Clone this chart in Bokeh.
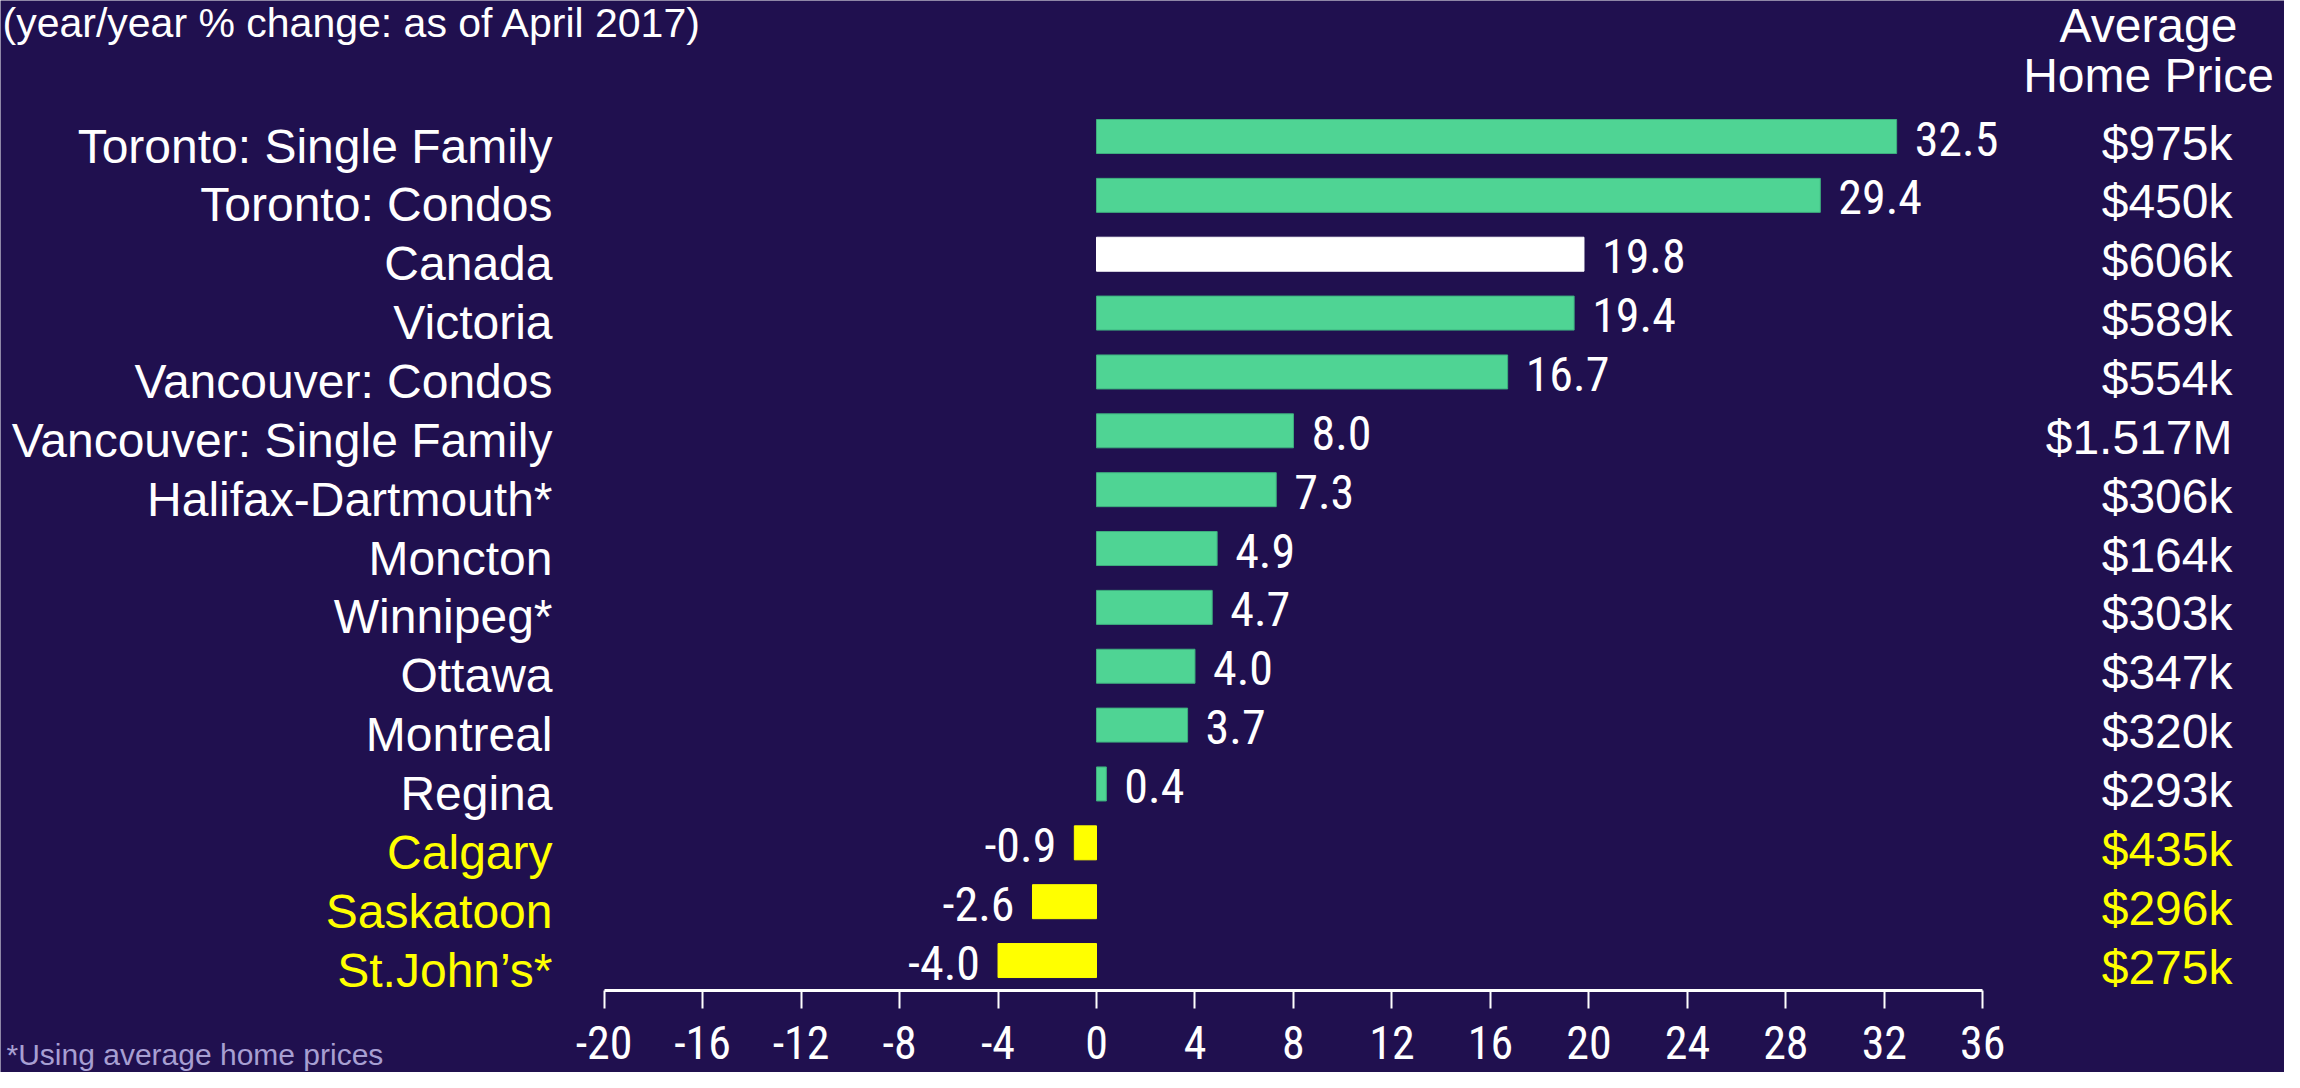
from bokeh.plotting import figure
from bokeh.models import Range1d, LinearAxis, FixedTicker, ColumnDataSource, PrintfTickFormatter
from bokeh.core.properties import value
from bokeh.embed import file_html
from bokeh.resources import INLINE

# ---------------- data ----------------
categories = ["Toronto: Single Family", "Toronto: Condos", "Canada", "Victoria",
              "Vancouver: Condos", "Vancouver: Single Family", "Halifax-Dartmouth*",
              "Moncton", "Winnipeg*", "Ottawa", "Montreal", "Regina", "Calgary",
              "Saskatoon", "St.John\u2019s*"]
changes = [32.5, 29.4, 19.8, 19.4, 16.7, 8.0, 7.3, 4.9, 4.7, 4.0, 3.7, 0.4, -0.9, -2.6, -4.0]
prices = ["$975k", "$450k", "$606k", "$589k", "$554k", "$1.517M", "$306k", "$164k",
          "$303k", "$347k", "$320k", "$293k", "$435k", "$296k", "$275k"]
x_ticks = [-20, -16, -12, -8, -4, 0, 4, 8, 12, 16, 20, 24, 28, 32, 36]
subtitle = "(year/year % change: as of April 2017)"
price_header = ["Average", "Home Price"]
footnote = "*Using average home prices"

# ---------------- styling / layout ----------------
BG = "#20104F"
GREEN = "#4FD494"
GREEN_EDGE = "#3DAE7E"
YELLOW = "#FFFF00"
WHITE = "#FFFFFF"
NOTE = "#A79FD2"
SANS = value("Liberation Sans")
NARROW_NAME = ("Liberation Sans Narrow, Arial Narrow, Roboto Condensed, "
               "Open Sans Condensed, DejaVu Sans Condensed")
NARROW = value(NARROW_NAME)

W, H = 2284, 1072
UNIT_PX = 24.62      # pixels per % unit
ROW_PX = 58.86       # pixels per row
X0_PX = 1096         # pixel of x = 0
ROW0_PX = 136        # pixel of first row center


def px_to_x(px):
    return (px - X0_PX) / UNIT_PX


def px_to_row(py):
    return (py - ROW0_PX) / ROW_PX


p = figure(width=W, height=H, output_backend="svg", toolbar_location=None,
           x_axis_type=None, y_axis_type=None,
           x_range=Range1d(px_to_x(0), px_to_x(W)),
           y_range=Range1d(px_to_row(H), px_to_row(0)),
           min_border=0, min_border_left=0, min_border_right=0,
           min_border_top=0, min_border_bottom=0)
p.background_fill_color = BG
p.border_fill_color = BG
p.outline_line_color = None

n = len(categories)
rows = list(range(n))
bar_fill = []
bar_line = []
for c, v in zip(categories, changes):
    if c == "Canada":
        bar_fill.append(WHITE); bar_line.append(WHITE)
    elif v < 0:
        bar_fill.append(YELLOW); bar_line.append(YELLOW)
    else:
        bar_fill.append(GREEN); bar_line.append(GREEN_EDGE)
cat_color = [YELLOW if v < 0 else WHITE for v in changes]

src = ColumnDataSource(dict(
    row=rows, change=changes, cat=categories, price=prices,
    fill=bar_fill, line=bar_line, catcol=cat_color,
    vlab=[f"{v:.1f}" for v in changes],
    vx=[v + (18 / UNIT_PX if v >= 0 else -18 / UNIT_PX) for v in changes],
    valign=["left" if v >= 0 else "right" for v in changes],
    vy=[r + 2 / ROW_PX for r in rows],
    cy=[r + 9.5 / ROW_PX for r in rows],
    py=[r + 6.5 / ROW_PX for r in rows],
))

p.hbar(y="row", left=0, right="change", height=34 / ROW_PX, source=src,
       fill_color="fill", line_color="line", line_width=1)

# value labels
p.text(x="vx", y="vy", text="vlab", source=src, text_align="valign",
       text_baseline="middle", text_color=WHITE, text_font=NARROW,
       text_font_size="48px")

# category labels
p.text(x=px_to_x(552), y="cy", text="cat", source=src, text_align="right",
       text_baseline="middle", text_color="catcol", text_font=SANS,
       text_font_size="48px")

# price labels
p.text(x=px_to_x(2232), y="py", text="price", source=src, text_align="right",
       text_baseline="middle", text_color="catcol", text_font=SANS,
       text_font_size="48px")

# price header
p.text(x=[px_to_x(2148)] * 2, y=[px_to_row(25), px_to_row(75)],
       text=price_header, text_align="center", text_baseline="middle",
       text_color=WHITE, text_font=SANS, text_font_size="48px")

# subtitle
p.text(x=[px_to_x(2)], y=[px_to_row(22)], text=[subtitle],
       text_align="left", text_baseline="middle", text_color=WHITE,
       text_font=SANS, text_font_size="41px")

# footnote
p.text(x=[px_to_x(6)], y=[px_to_row(1054)], text=[footnote],
       text_align="left", text_baseline="middle", text_color=NOTE,
       text_font=SANS, text_font_size="30px")

# x axis drawn at a fixed location below the last bar
axis = LinearAxis(ticker=FixedTicker(ticks=x_ticks), bounds=(x_ticks[0], x_ticks[-1]),
                  fixed_location=px_to_row(990),
                  formatter=PrintfTickFormatter(format="%d"))
axis.axis_line_color = WHITE
axis.axis_line_width = 3
axis.major_tick_line_color = WHITE
axis.major_tick_line_width = 2
axis.major_tick_in = 0
axis.major_tick_out = 18
axis.minor_tick_line_color = None
axis.major_label_text_color = WHITE
axis.major_label_text_font = NARROW_NAME
axis.major_label_text_font_size = "46px"
axis.major_label_standoff = 17
p.add_layout(axis, "below")

open("out.html", "w").write(file_html(p, INLINE))
